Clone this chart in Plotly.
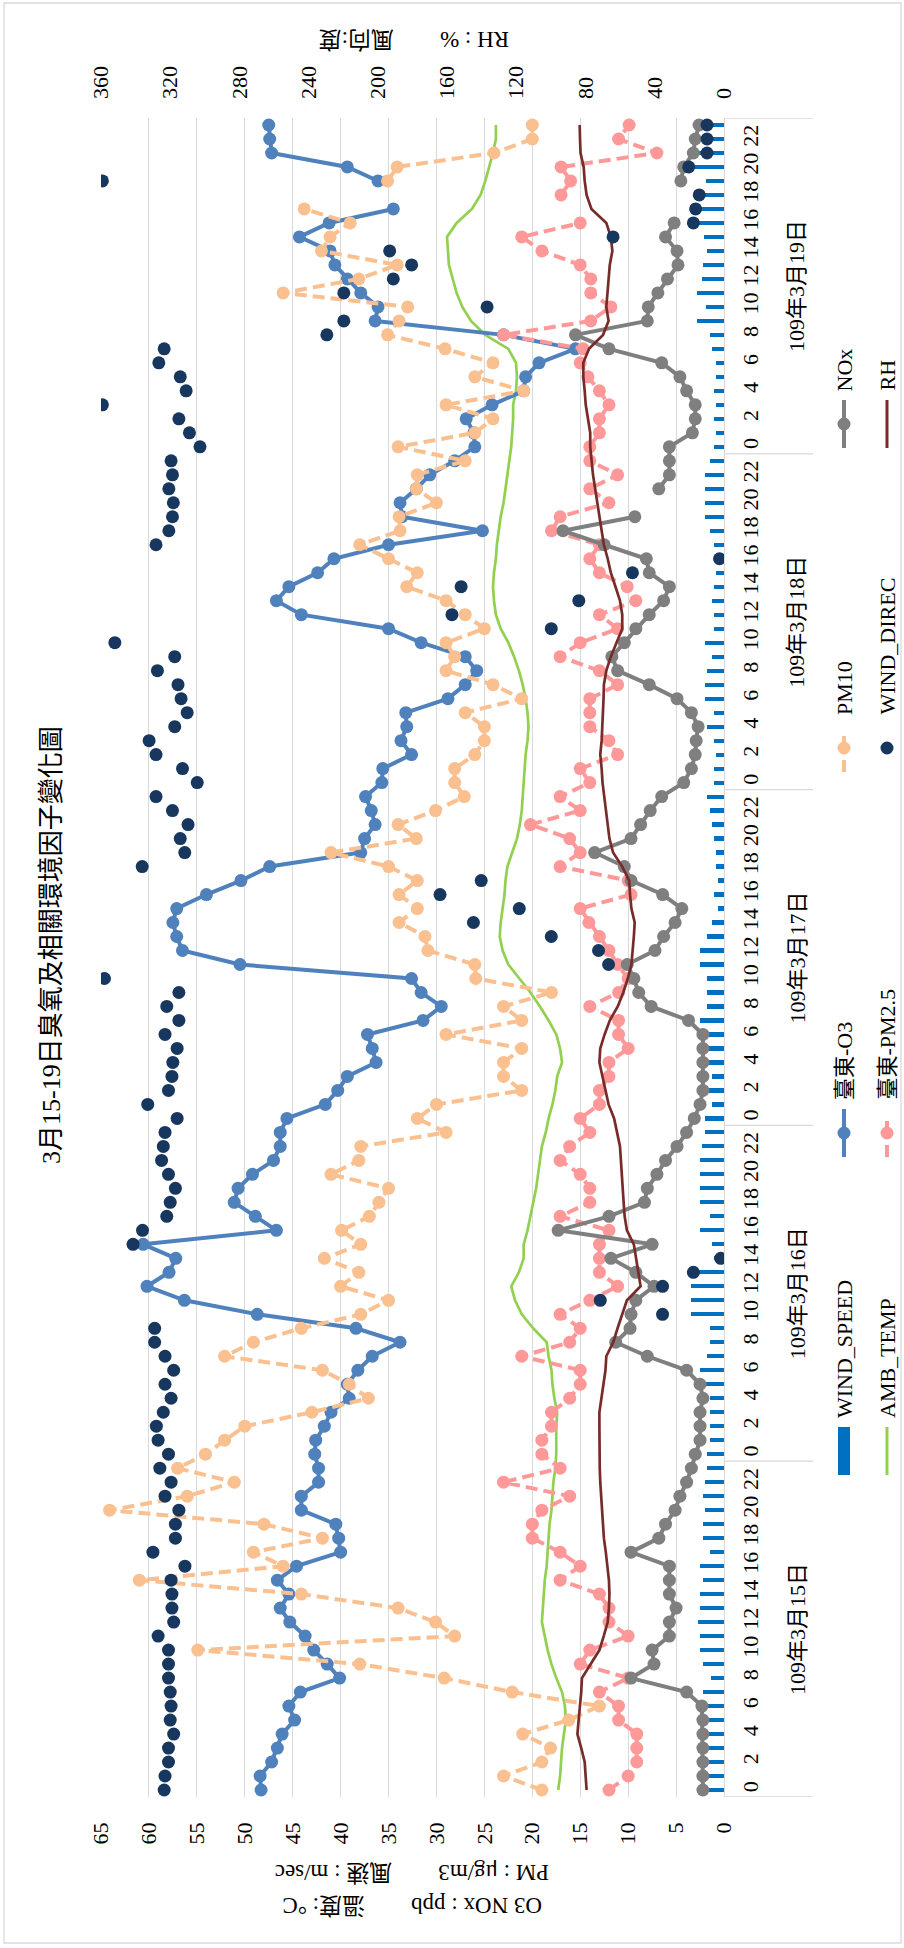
import plotly.graph_objects as go

# ---- data: hourly observations, 2020-03-15 .. 03-19 (ROC year 109) ----
DAYS = ["109年3月15日", "109年3月16日", "109年3月17日", "109年3月18日", "109年3月19日"]
HOURS = list(range(24))
HOUR_LABELS = [str(h) for h in range(0, 24, 2)]

wind_speed = [
    1.8, 2.0, 1.8, 2.0, 1.8, 2.2, 2.0, 2.2, 1.4, 2.2, 2.5, 2.5, 2.7, 2.5, 2.5, 2.2, 2.5, 1.5, 2.2, 2.2, 2.0, 2.2, 2.0, 1.8,
    1.8, 1.5, 1.5, 1.5, 1.5, 2.0, 2.5, 1.8, 1.5, 1.5, 3.4, 3.4, 3.4, 3.4, 1.0, 1.3, 2.5, 1.5, 2.5, 2.5, 2.5, 2.5, 2.3, 2.0,
    2.0, 1.3, 2.0, 1.3, 2.0, 2.7, 1.8, 2.5, 1.8, 1.8, 1.8, 2.5, 2.5, 1.8, 1.3, 0.6, 1.0, 0.6, 0.8, 0.8, 1.0, 1.3, 1.5, 1.8,
    1.0, 1.0, 0.8, 1.0, 1.8, 1.0, 2.0, 2.0, 1.8, 1.3, 2.0, 1.0, 1.0, 1.3, 1.0, 0.8, 0.8, 1.0, 1.5, 2.0, 2.0, 2.0, 2.0, 1.5,
    1.0, 0.8, 1.0, 0.8, 1.0, 0.8, 0.8, 1.3, 1.5, 2.8, 1.9, 2.8, 2.3, 2.2, 1.8, 2.1, 3.2, 3.2, 3.0, 1.9, 3.5, 2.7, 2.7, 2.5,
]

amb_temp = [
    17.3, 17.1, 17.0, 16.9, 16.7, 16.5, 16.6, 16.9, 17.5, 18.0, 18.4, 18.7, 19.0, 18.9, 18.8, 18.7, 18.5, 18.4, 18.3, 18.2, 18.0, 17.9, 17.8, 17.6,
    17.5, 17.5, 17.5, 17.4, 17.7, 17.9, 18.0, 18.3, 18.5, 19.9, 21.1, 21.8, 22.2, 21.4, 20.9, 20.9, 20.5, 20.2, 19.9, 19.6, 19.4, 19.2, 19.0, 18.6,
    18.3, 17.9, 17.6, 17.4, 16.9, 17.1, 17.5, 18.3, 19.2, 20.2, 21.4, 22.5, 23.1, 23.4, 23.3, 23.1, 22.9, 22.8, 22.6, 22.1, 21.6, 21.3, 21.1, 21.0,
    20.9, 20.8, 20.7, 20.5, 20.4, 20.5, 20.7, 21.0, 21.4, 21.9, 22.5, 23.3, 23.8, 24.0, 24.1, 24.0, 23.8, 23.7, 23.5, 23.3, 23.0, 22.8, 22.6, 22.4,
    22.2, 22.1, 22.0, 22.0, 21.7, 21.6, 21.7, 22.5, 24.9, 26.4, 27.3, 27.9, 28.3, 28.7, 28.8, 28.9, 27.9, 26.3, 25.4, 24.9, 24.5, 24.1, 23.8, 23.8,
]

o3 = [
    48.3, 48.4, 47.2, 46.6, 46.1, 44.8, 45.4, 44.2, 40.1, 41.4, 42.8, 43.7, 45.3, 46.3, 45.4, 46.6, 44.6, 40.0, 40.2, 40.5, 44.1, 44.1, 42.3, 42.3,
    42.7, 42.6, 41.7, 41.0, 39.1, 39.3, 38.2, 36.7, 33.8, 38.4, 48.7, 56.3, 60.2, 57.9, 57.2, 60.6, 46.7, 48.9, 51.1, 50.7, 49.2, 47.0, 46.3, 46.3,
    45.6, 41.6, 40.3, 39.3, 36.3, 36.7, 37.2, 31.4, 29.5, 31.6, 32.6, 50.5, 56.5, 57.1, 57.5, 57.1, 54.0, 50.4, 47.4, 37.9, 37.5, 36.4, 36.8, 37.4,
    35.7, 35.6, 32.6, 33.7, 33.1, 33.2, 28.8, 27.0, 25.8, 27.0, 31.6, 35.0, 44.1, 46.7, 45.4, 42.4, 40.7, 35.0, 25.2, 33.6, 33.8, 32.1, 30.7, 28.1,
    26.0, 26.1, 26.9, 24.2, 20.9, 20.7, 19.3, 15.5, 23.0, 36.4, 36.1, 37.9, 39.3, 40.6, 41.1, 44.3, 41.2, 34.5, None, 36.1, 39.3, 47.2, 47.4, 47.5,
]

pm25 = [
    12.0, 10.0, 9.1, 9.1, 9.1, 11.0, 11.0, 13.0, 10.0, 15.0, 14.0, 10.0, 12.0, 12.0, 13.0, 17.1, 15.0, 17.1, 20.0, 20.0, 19.0, 16.1, 23.0, 17.1,
    19.0, 19.0, 18.0, 18.0, 16.1, 15.0, 15.0, 21.1, 16.1, 15.0, 17.1, 14.0, 11.1, 13.0, 13.0, 13.0, 12.0, 17.1, 14.0, 14.0, 15.0, 17.1, 16.1, 14.0,
    15.0, 13.0, 13.0, 12.0, 12.0, 10.0, 11.0, 11.0, 14.0, 11.0, 10.0, 11.1, 12.0, 13.0, 14.1, 15.0, 9.7, 10.0, 17.1, 15.0, 16.1, 20.2, 15.0, 17.1,
    14.0, 15.0, 11.1, 12.0, 14.0, 14.0, 14.0, 11.1, 13.0, 17.1, 15.0, 11.1, 13.0, 9.2, 10.1, 13.0, 14.0, 13.0, 18.0, 17.1, 12.0, 14.0, 11.1, 14.0,
    14.0, 13.0, 13.0, 12.0, 13.0, 14.2, 15.0, 14.7, 23.0, 13.9, 11.8, 13.9, 13.9, 15.0, 19.0, 21.1, 15.0, None, 17.0, 16.0, 17.0, 7.0, 11.0, 9.9,
]

pm10 = [
    19.0, 23.0, 19.0, 18.1, 21.0, 16.2, 13.0, 22.1, 29.2, 38.0, 54.9, 28.1, 30.1, 34.0, 44.1, 61.0, 46.0, 49.1, 41.9, 48.0, 64.1, 56.0, 51.1, 57.0,
    54.1, 52.1, 50.0, 43.0, 37.1, 39.1, 41.9, 52.1, 49.1, 44.1, 37.9, 35.0, 40.0, 38.1, 41.7, 37.9, 39.9, 37.0, 36.0, 35.0, 41.0, 38.1, 37.9, 29.0,
    32.0, 30.0, 21.1, 23.0, 23.0, 21.1, 29.0, 21.1, 23.0, 18.0, 25.9, 26.0, 30.9, 31.2, 33.9, 32.0, 33.9, 32.0, 35.0, 41.0, 32.1, 34.0, 30.1, 27.1,
    28.1, 28.1, 26.0, 25.0, 25.0, 27.0, 21.1, 24.1, 29.0, 28.1, 29.0, 25.0, 27.0, 29.0, 33.1, 32.0, 35.0, 38.0, 33.8, 33.9, 30.0, 32.1, 32.0, 27.0,
    34.0, 26.0, 24.1, 29.0, 20.9, 26.0, 24.1, 29.1, 35.1, 33.9, 33.0, 46.0, 38.1, 34.1, 42.0, 41.1, 39.0, 43.8, None, 35.1, 34.1, 24.0, 20.0, 20.0,
]

wind_dir = [
    323.5, 323, 321, 321, 318, 320, 319.5, 320, 321, 321, 321, 327, 318, 319, 319, 319.5, 311.5, 330, 317, 317, 315, 323, 319.5, 326,
    321, 327, 328, 324, 319.5, 323, 318, 323, 329, 329, 35.5, 71.5, 35.5, 17.7, 1.9, 341.5, 336, 322, 320, 317, 321, 325, 324, 323,
    316, 333, 321, 319, 318.5, 316, 323, 315, 322, 315, 358, 66.7, 72.5, 99.8, 144.8, 118.3, 164.1, 140.3, 336.2, 311.6, 314.2, 309.7, 318.7, 328.2,
    304.4, 312.9, 328.2, 332.2, 317.4, 310.2, 313.7, 315.5, 327.4, 317.4, 352, 99.8, 157.2, 83.9, 151.9, 52.9, 2.6, 328.2, 320.8, 318.7, 318.2, 320.8, 318.7, 319.5,
    302.8, 308.9, 315, 359.2, 310.8, 314.2, 326.6, 323.5, 229.5, 219.7, 136.9, 219.7, 191.1, 180.5, 193.2, 64.1, 17.7, 16.4, 14.3, 359.2, 20.4, 9.8, 9.8, 9.8,
]

nox = [
    2.2, 2.2, 2.2, 2.2, 2.2, 2.2, 2.3, 3.9, 9.7, 7.3, 7.5, 5.7, 5.7, 5.0, 5.7, 5.7, 5.7, 9.7, 6.8, 6.1, 5.1, 4.6, 3.9, 3.4,
    3.0, 2.5, 2.5, 2.5, 2.2, 2.5, 3.9, 8.0, 11.3, 9.8, 9.7, 9.2, 7.3, 9.2, 11.8, 7.5, 17.3, 12.0, 8.3, 8.0, 7.0, 6.1, 4.9, 3.9,
    3.1, 2.5, 2.2, 2.2, 2.2, 2.2, 2.2, 3.7, 7.6, 8.9, 9.4, 10.1, 7.2, 6.3, 5.1, 4.4, 6.4, 9.7, 10.4, 13.5, 9.7, 8.7, 7.7, 6.5,
    4.2, 3.4, 3.0, 2.9, 2.7, 3.4, 4.9, 7.8, 11.1, 11.7, 10.4, 9.2, 7.8, 6.3, 5.7, 7.8, 8.1, 12.5, 16.8, 9.3, None, 6.8, 5.7, 5.7,
    5.7, 3.3, 3.0, 3.0, 3.9, 4.6, 6.5, 12.0, 15.5, 8.0, 7.9, 6.9, 5.9, 4.8, 4.9, 6.1, 5.2, None, None, 4.5, 4.2, 3.2, 3.0, 2.6,
]

rh = [
    79.4, 80.0, 80.5, 82.5, 84.7, 84.0, 83.1, 82.5, 82.1, 77.3, 72.0, 69.5, 67.2, 66.5, 66.2, 66.5, 67.2, 68.3, 69.4, 70.0, 70.7, 71.0, 71.5, 71.8,
    72.0, 72.0, 72.0, 72.0, 70.7, 69.5, 68.5, 68.0, 64.0, 61.5, 58.8, 56.1, 48.2, 49.5, 50.8, 52.1, 56.1, 57.4, 58.0, 58.5, 59.0, 59.5, 60.1, 61.8,
    63.5, 66.7, 68.5, 70.0, 72.0, 71.5, 69.0, 66.0, 61.4, 58.2, 55.6, 53.5, 52.7, 52.1, 51.6, 53.5, 54.3, 54.8, 58.8, 64.1, 66.2, 67.2, 68.0, 69.4,
    70.2, 70.7, 71.5, 70.7, 70.2, 69.9, 69.6, 69.4, 68.0, 65.4, 61.9, 58.8, 58.8, 60.1, 62.7, 65.4, 67.2, 69.4, 70.7, 72.0, 73.3, 74.6, 75.7, 76.5,
    77.3, 77.3, 78.6, 79.9, 80.5, 81.3, 81.3, 78.0, 69.9, 66.7, 68.0, 67.3, 66.5, 66.0, 64.5, 65.4, 68.0, 76.6, 79.4, 80.5, 81.1, 82.9, 83.2, 83.4,
]

# ---- colours ----
C_WS, C_TEMP, C_O3, C_PM25 = "#0070C0", "#92D050", "#4F81BD", "#FF9999"
C_PM10, C_DIR, C_NOX, C_RH = "#FAC090", "#17375E", "#7F7F7F", "#772C2A"
GRID = "#D9D9D9"
FONT = "Liberation Serif, Noto Sans CJK TC, serif"

# ---- page geometry (portrait page, time runs bottom -> top) ----
W, H = 904, 1948
ML, MR, MT, MB = 101, 180, 118, 151
PW, PH = W - ML - MR, H - MT - MB


def px(x):
    return (x - ML) / PW


def py(y):
    return (H - MB - y) / PH


idx = list(range(len(DAYS) * len(HOURS)))
MS = 13
DASH = "12px,6px"

fig = go.Figure()
fig.add_trace(go.Bar(x=wind_speed, y=idx, orientation="h", width=0.3,
                     marker=dict(color=C_WS, line_width=0), name="WIND_SPEED"))
fig.add_trace(go.Scatter(x=amb_temp, y=idx, mode="lines", name="AMB_TEMP",
                         line=dict(color=C_TEMP, width=2.7)))
fig.add_trace(go.Scatter(x=o3, y=idx, mode="lines+markers", name="臺東-O3",
                         line=dict(color=C_O3, width=4), marker=dict(size=MS, color=C_O3)))
fig.add_trace(go.Scatter(x=pm25, y=idx, mode="lines+markers", name="臺東-PM2.5",
                         line=dict(color=C_PM25, width=4, dash=DASH), marker=dict(size=MS, color=C_PM25)))
fig.add_trace(go.Scatter(x=pm10, y=idx, mode="lines+markers", name="PM10",
                         line=dict(color=C_PM10, width=4, dash=DASH), marker=dict(size=MS, color=C_PM10)))
fig.add_trace(go.Scatter(x=nox, y=idx, mode="lines+markers", name="NOx",
                         line=dict(color=C_NOX, width=4), marker=dict(size=MS, color=C_NOX)))
fig.add_trace(go.Scatter(x=rh, y=idx, mode="lines", name="RH", xaxis="x2",
                         line=dict(color=C_RH, width=2.7)))
fig.add_trace(go.Scatter(x=wind_dir, y=idx, mode="markers", name="WIND_DIREC", xaxis="x2",
                         marker=dict(size=MS, color=C_DIR)))

shapes = []
# day separators on the time axis
for d in range(len(DAYS) + 1):
    b = d * 24 - 0.5
    shapes.append(dict(type="line", xref="paper", yref="y", x0=1, x1=px(813), y0=b, y1=b,
                       line=dict(color=GRID, width=1.3)))
# chart frame
shapes.append(dict(type="rect", xref="paper", yref="paper", x0=px(4), x1=px(901),
                   y0=py(1943), y1=py(3), line=dict(color=GRID, width=1.3)))

annotations = []
tick_font = dict(family=FONT, size=22, color="#000000")
title_font = dict(family=FONT, size=23, color="#000000")


def note(text, x, y, angle, font, xref="paper", yref="paper", xanchor="center", yanchor="middle"):
    annotations.append(dict(text=text, x=x, y=y, xref=xref, yref=yref, showarrow=False,
                            textangle=angle, font=font, xanchor=xanchor, yanchor=yanchor))


note("3月15-19日臭氧及相關環境因子變化圖", px(52), py(945), -90,
     dict(family=FONT, size=26, color="#000000"))
# value-axis titles (drawn upside down, one annotation per line)
note("O3 NOx : ppb\u3000\u3000溫度: °C", px(412), py(1906), 180, title_font)
note("PM : μg/m3\u3000\u3000風速 : m/sec", px(412), py(1873), 180, title_font)
note("RH : %\u3000\u3000風向:度", px(414), py(40), 180, title_font)
for d, label in enumerate(DAYS):
    note(label, px(797), d * 24 + 11.5, -90, tick_font, yref="y")

# ---- legend, drawn alongside the time axis ----
C1, C2 = 844, 887
ROWS = [1451, 1133, 748, 424]
HALF = 24
legend_items = [
    (C1, ROWS[0], "WIND_SPEED", "bar", C_WS, None),
    (C2, ROWS[0], "AMB_TEMP", "line", C_TEMP, None),
    (C1, ROWS[1], "臺東-O3", "linemarker", C_O3, None),
    (C2, ROWS[1], "臺東-PM2.5", "linemarker", C_PM25, "dash"),
    (C1, ROWS[2], "PM10", "linemarker", C_PM10, "dash"),
    (C2, ROWS[2], "WIND_DIREC", "marker", C_DIR, None),
    (C1, ROWS[3], "NOx", "linemarker", C_NOX, None),
    (C2, ROWS[3], "RH", "line", C_RH, None),
]
for cx, cy, label, kind, color, dash in legend_items:
    if kind == "bar":
        shapes.append(dict(type="rect", xref="paper", yref="paper",
                           x0=px(cx - 6), x1=px(cx + 6), y0=py(cy + HALF), y1=py(cy - HALF),
                           fillcolor=color, line=dict(width=0)))
    if kind in ("line", "linemarker"):
        shapes.append(dict(type="line", xref="paper", yref="paper",
                           x0=px(cx), x1=px(cx), y0=py(cy + HALF), y1=py(cy - HALF),
                           line=dict(color=color, width=4 if kind == "linemarker" else 3,
                                     dash=dash if dash else "solid")))
    if kind in ("marker", "linemarker"):
        r = 6.5
        shapes.append(dict(type="circle", xref="paper", yref="paper",
                           x0=px(cx - r), x1=px(cx + r), y0=py(cy + r), y1=py(cy - r),
                           fillcolor=color, line=dict(color=color, width=0)))
    note(label, px(cx), py(cy - HALF - 7), -90, dict(family=FONT, size=22, color="#000000"),
         yanchor="bottom")

fig.update_layout(
    width=W, height=H,
    margin=dict(l=ML, r=MR, t=MT, b=MB),
    paper_bgcolor="white", plot_bgcolor="white",
    showlegend=False, bargap=0,
    xaxis=dict(range=[65, 0], tickmode="linear", tick0=0, dtick=5, tickangle=-90,
               tickfont=tick_font, showgrid=True, gridcolor=GRID, gridwidth=1.3,
               zeroline=False, showline=False, ticks="", ticklabelstandoff=20),
    xaxis2=dict(range=[360, 0], overlaying="x", side="top", tickmode="linear", tick0=0, dtick=40,
                tickangle=-90, tickfont=tick_font, showgrid=False, zeroline=False,
                showline=False, ticks="", ticklabelstandoff=18),
    yaxis=dict(range=[-0.5, len(idx) - 0.5], tickmode="array",
               tickvals=[i for i in idx if i % 2 == 0],
               ticktext=HOUR_LABELS * len(DAYS), side="right", tickangle=-90,
               tickfont=tick_font, showgrid=False, zeroline=False, showline=True,
               linecolor=GRID, linewidth=1.3, ticks="", ticklabelstandoff=6),
    shapes=shapes,
    annotations=annotations,
)

fig.write_html("out.html")
